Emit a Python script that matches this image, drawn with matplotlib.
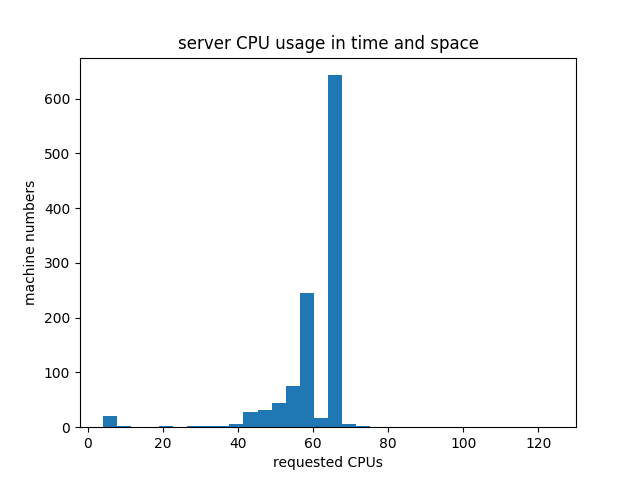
import numpy as np
import matplotlib
matplotlib.use("Agg")
import matplotlib.pyplot as plt

# histogram bins over requested CPUs (4 .. 124, 32 bins)
bin_edges = np.linspace(4, 124, 33)
counts = [20, 2, 0, 0, 2, 0, 2, 2, 2, 5, 27, 31, 44, 75, 246, 17,
          643, 5, 2, 0, 0, 0, 0, 0, 0, 0, 0, 0, 0, 0, 0, 0]

centers = (bin_edges[:-1] + bin_edges[1:]) / 2

plt.figure(figsize=(6.4, 4.8), dpi=100)
plt.hist(centers, bins=bin_edges, weights=counts)
plt.title("server CPU usage in time and space")
plt.xlabel("requested CPUs")
plt.ylabel("machine numbers")
plt.savefig("out.png")
